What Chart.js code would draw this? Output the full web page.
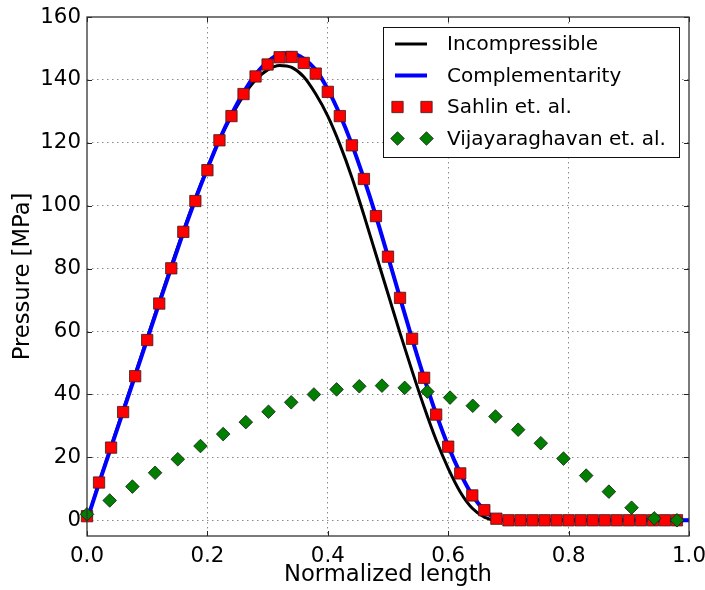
<!DOCTYPE html>
<html><head><meta charset="utf-8">
<script src="https://cdn.jsdelivr.net/npm/chart.js@4/dist/chart.umd.min.js"></script>
<style>html,body{margin:0;padding:0;background:#fff;}#wrap{width:705px;height:590px;}</style>
</head><body><div id="wrap"><canvas id="c" width="705" height="590"></canvas></div>
<script>
// ---- data ----
const lineX = [0,0.02,0.04,0.06,0.08,0.10,0.12,0.14,0.16,0.18,0.20,0.22,0.24,0.26,0.28,0.30,0.32,0.34,0.36,0.38,0.40,0.42,0.44,0.46,0.48,0.50,0.52,0.54,0.56,0.58,0.60,0.62,0.64,0.66,0.68,0.70,1.0];
const incompressibleY = [0,12,23.5,35,46.5,58,69.5,81,92,102.5,112,121,128.5,135,140,143.2,144.6,144,141,135.5,128.5,119.5,109,97,84.5,72,59.5,47.5,36,25.5,16.5,9,3.8,1,0,0,0];
const complementarityY = [0,11.8,23.2,34.6,46,57.5,69,80.3,91.5,102,111.8,121,129,136,141.8,145.8,148.2,148.5,146.8,143.2,137,129,119.5,108.6,96.7,83.8,70.7,57.7,45.3,33.8,23.6,15,8,3.2,0.6,0,0];
const sahlinX = [0,0.02,0.04,0.06,0.08,0.10,0.12,0.14,0.16,0.18,0.20,0.22,0.24,0.26,0.28,0.30,0.32,0.34,0.36,0.38,0.40,0.42,0.44,0.46,0.48,0.50,0.52,0.54,0.56,0.58,0.60,0.62,0.64,0.66,0.68,0.70,0.72,0.74,0.76,0.78,0.80,0.82,0.84,0.86,0.88,0.90,0.92,0.94,0.96,0.98];
const sahlinY = [1.3,12.0,23.1,34.4,45.8,57.3,68.9,80.1,91.7,101.5,111.3,120.8,128.5,135.5,141.1,144.9,147.2,147.3,145.4,142.0,136.2,128.5,119.2,108.5,96.7,83.8,70.7,57.7,45.3,33.6,23.4,14.9,7.9,3.2,0.5,0,0,0,0,0,0,0,0,0,0,0,0,0,0,0];
const vijayX = [0,0.0377,0.0754,0.1131,0.1508,0.1885,0.2262,0.2638,0.3015,0.3392,0.3769,0.4146,0.4523,0.49,0.5277,0.5654,0.6031,0.6408,0.6785,0.7162,0.7538,0.7915,0.8292,0.8669,0.9046,0.9423,0.98];
const vijayY = [1.9,6.3,10.7,15.1,19.4,23.6,27.4,31.2,34.5,37.5,40.0,41.6,42.6,42.8,42.1,40.9,39.0,36.4,33.0,28.8,24.5,19.6,14.2,9.1,4.0,0.6,0.0];
const xTicks = [0,0.2,0.4,0.6,0.8,1.0];
const yTicks = [0,20,40,60,80,100,120,140,160];
const seriesNames = ['Incompressible','Complementarity','Sahlin et. al.','Vijayaraghavan et. al.'];

const FONT = 'DejaVu Sans';
const pts = (xs, ys) => xs.map((x, i) => ({x: x, y: ys[i]}));

const frameAndLegend = {
  id: 'frameAndLegend',
  beforeDatasetsDraw(chart) {
    const {ctx, chartArea: a, scales: {x, y}} = chart;
    ctx.save();
    ctx.strokeStyle = '#222';
    ctx.lineWidth = 1;
    ctx.beginPath();
    xTicks.forEach(v => { const p = Math.round(x.getPixelForValue(v)) + 0.5;
      ctx.moveTo(p, a.bottom); ctx.lineTo(p, a.bottom - 5);
      ctx.moveTo(p, a.top); ctx.lineTo(p, a.top + 5); });
    yTicks.forEach(v => { const p = Math.round(y.getPixelForValue(v)) + 0.5;
      ctx.moveTo(a.left, p); ctx.lineTo(a.left + 5, p);
      ctx.moveTo(a.right, p); ctx.lineTo(a.right - 5, p); });
    ctx.stroke();
    ctx.restore();
  },
  afterDatasetsDraw(chart) {
    const {ctx, chartArea: a} = chart;
    ctx.save();
    ctx.strokeStyle = '#333';
    ctx.lineWidth = 1.3;
    ctx.strokeRect(a.left, a.top, a.right - a.left, a.bottom - a.top);
    // legend
    const bx = 383.5, by = 27.5, bw = 296, bh = 130;
    ctx.fillStyle = '#fff';
    ctx.fillRect(bx, by, bw, bh);
    ctx.strokeStyle = '#111';
    ctx.lineWidth = 1;
    ctx.strokeRect(bx, by, bw, bh);
    const rows = [44, 75.5, 107, 138.5];
    const ds = chart.data.datasets;
    ctx.font = '20px "' + FONT + '"';
    ctx.textBaseline = 'middle';
    ctx.textAlign = 'left';
    ds.forEach((d, i) => {
      const ry = rows[i];
      if (d.showLine) {
        ctx.strokeStyle = d.borderColor;
        ctx.lineWidth = d.borderWidth;
        ctx.beginPath(); ctx.moveTo(395, ry); ctx.lineTo(427, ry); ctx.stroke();
      } else {
        [397.5, 426.5].forEach(px => {
          ctx.fillStyle = d.backgroundColor; ctx.strokeStyle = d.borderColor; ctx.lineWidth = d.borderWidth;
          Chart.helpers.drawPoint(ctx, {pointStyle: d.pointStyle, radius: d.pointRadius, rotation: 0, borderWidth: d.borderWidth}, px, ry);
        });
      }
      ctx.fillStyle = '#000';
      ctx.fillText(d.label, 447, ry + 1);
    });
    ctx.restore();
  }
};

new Chart(document.getElementById('c'), {
  type: 'scatter',
  data: {
    datasets: [
      {label: seriesNames[0], data: pts(lineX, incompressibleY), showLine: true, borderColor: '#000000', borderWidth: 3, pointRadius: 0, cubicInterpolationMode: 'monotone', order: 4, clip: false},
      {label: seriesNames[1], data: pts(lineX, complementarityY), showLine: true, borderColor: '#0000ff', borderWidth: 4, pointRadius: 0, cubicInterpolationMode: 'monotone', order: 3, clip: false},
      {label: seriesNames[2], data: pts(sahlinX, sahlinY), showLine: false, pointStyle: 'rect', pointRadius: 8, backgroundColor: '#ff0000', borderColor: '#3a1a1a', borderWidth: 0.8, order: 2, clip: false},
      {label: seriesNames[3], data: pts(vijayX, vijayY), showLine: false, pointStyle: 'rectRot', pointRadius: 6.8, backgroundColor: '#007f00', borderColor: '#102010', borderWidth: 0.8, order: 1, clip: false}
    ]
  },
  options: {
    responsive: false, animation: false, devicePixelRatio: 1,
    layout: {padding: {top: 17, right: 16, left: 0, bottom: 1}},
    plugins: {legend: {display: false}, tooltip: {enabled: false}},
    scales: {
      x: {
        type: 'linear', min: 0, max: 1,
        afterFit(s) { s.height = 53; s.paddingRight = 0; s.paddingLeft = 0; },
        afterBuildTicks(s) { s.ticks = xTicks.map(v => ({value: v})); },
        ticks: {callback: v => Number(v).toFixed(1), font: {family: FONT, size: 21.33}, color: '#000', padding: 8, maxRotation: 0, autoSkip: false},
        grid: {color: c => (c.tick && (c.tick.value === 0 || c.tick.value === 1)) ? 'rgba(0,0,0,0)' : '#8a8a8a', lineWidth: 1, drawTicks: false},
        border: {display: false, dash: [1.5, 3.5]},
        title: {display: true, text: 'Normalized length', font: {family: FONT, size: 22.67}, color: '#000', padding: {top: 0, bottom: 0}}
      },
      y: {
        type: 'linear', min: -5, max: 160,
        afterFit(s) { s.width = 87; s.paddingTop = 0; s.paddingBottom = 0; },
        afterBuildTicks(s) { s.ticks = yTicks.map(v => ({value: v})); },
        ticks: {font: {family: FONT, size: 21.33}, color: '#000', padding: 6, autoSkip: false},
        grid: {color: c => (c.tick && c.tick.value === 160) ? 'rgba(0,0,0,0)' : '#8a8a8a', lineWidth: 1, drawTicks: false},
        border: {display: false, dash: [1.5, 3.5]},
        title: {display: true, text: 'Pressure [MPa]', font: {family: FONT, size: 22.67}, color: '#000', padding: {top: 9.5, bottom: 0}}
      }
    }
  },
  plugins: [frameAndLegend]
});
</script>
</body></html>
